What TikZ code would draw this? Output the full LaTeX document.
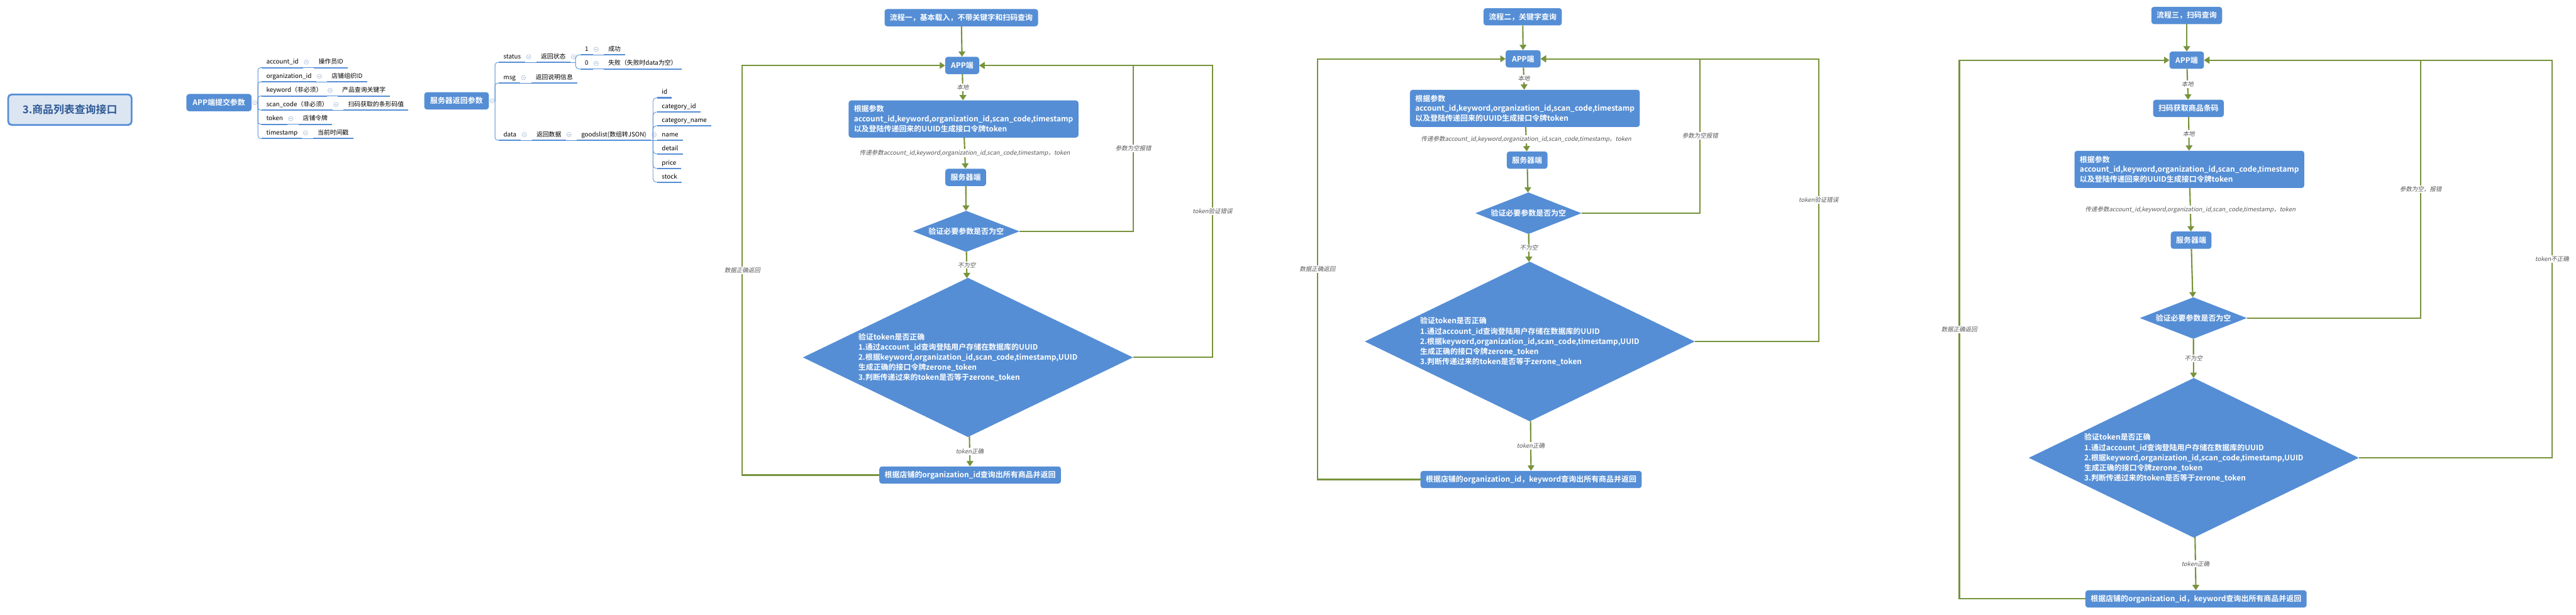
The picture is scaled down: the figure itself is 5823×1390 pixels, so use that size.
\documentclass[tikz,border=0pt]{standalone}
\usepackage{fontspec}
\setmainfont{Noto Sans CJK SC}[BoldFont={Noto Sans CJK SC Bold}]
\newfontfamily\slantfont{Noto Sans CJK SC}[FakeSlant=0.2]
\usepackage{xcolor}
\usepackage{tikz}
\usetikzlibrary{shapes.geometric,arrows.meta,positioning}

\definecolor{nodeblue}{HTML}{558ED5}
\definecolor{linegreen}{HTML}{77933C}
\definecolor{titlefill}{HTML}{DCE6F2}
\definecolor{titletext}{HTML}{2F5A96}
\definecolor{foldgray}{HTML}{A9BCDD}
\definecolor{labelgray}{HTML}{595959}

\tikzset{
  titlebox/.style={rectangle, rounded corners=8pt, draw=nodeblue, line width=4pt, fill=titlefill,
    text=titletext, font=\fontsize{24}{28}\selectfont\bfseries, minimum width=279pt, minimum height=69pt},
  rootbox/.style={rectangle, rounded corners=6pt, fill=nodeblue, text=white,
    font=\fontsize{17}{20}\selectfont\bfseries, minimum height=39pt, inner xsep=12pt},
  uline/.style={draw=nodeblue, line width=3pt},
  twig/.style={draw=nodeblue, line width=1.2pt},
  topic/.style={anchor=south west, font=\fontsize{14}{17}\selectfont, text height=12pt, text depth=3pt,
    inner xsep=10pt, inner ysep=5pt,
    append after command={\pgfextra{\draw[uline] (\tikzlastnode.south west) -- (\tikzlastnode.south east);}}},
  fold/.style={circle, draw=foldgray, line width=0.9pt, minimum size=10pt, inner sep=0pt, fill=white,
    path picture={\draw[foldgray, line width=0.9pt] ([xshift=2.5pt]path picture bounding box.west)
      -- ([xshift=-2.5pt]path picture bounding box.east);}},
  flowbox/.style={rectangle, rounded corners=6pt, fill=nodeblue, text=white,
    font=\fontsize{17}{22.5}\selectfont\bfseries, minimum height=39pt, inner xsep=12pt, inner ysep=6pt},
  check/.style={diamond, fill=nodeblue, text=white, font=\fontsize{17}{23}\selectfont\bfseries,
    inner sep=0pt, align=left},
  flow/.style={draw=linegreen, line width=3pt, -{Triangle[length=12pt,width=15pt]}},
  lbl/.style={fill=white, text=labelgray, font=\slantfont\fontsize{13.5}{16}\selectfont, inner sep=2pt}
}

\begin{document}
\begin{tikzpicture}[x=1pt,y=-1pt]
\useasboundingbox[fill=white] (0,0) rectangle (5823,1390);

\node[titlebox] (n0) at (158,248) {3.商品列表查询接口};

% APP side parameters
\node[rootbox, minimum width=147pt] (m1) at (495,232) {APP端提交参数};
\node[fold, right=2pt of m1] (c1) {};
\coordinate (j1) at (583,232);
\draw[twig] (c1.east) -- (j1);
\node[topic] (k1) at (592,153) {account\_id};
\node[fold, right=2pt of k1] (f1) {};
\node[topic, right=12pt of f1] (v1) {操作员ID};
\draw[twig] (k1.south east) -- (v1.south west);
\draw[twig, rounded corners=6pt] (j1) |- (k1.south west);
\node[topic] (k2) at (592,185) {organization\_id};
\node[fold, right=2pt of k2] (f2) {};
\node[topic, right=12pt of f2] (v2) {店铺组织ID};
\draw[twig] (k2.south east) -- (v2.south west);
\draw[twig, rounded corners=6pt] (j1) |- (k2.south west);
\node[topic] (k3) at (592,217) {keyword（非必须）};
\node[fold, right=2pt of k3] (f3) {};
\node[topic, right=12pt of f3] (v3) {产品查询关键字};
\draw[twig] (k3.south east) -- (v3.south west);
\draw[twig, rounded corners=6pt] (j1) |- (k3.south west);
\node[topic] (k4) at (592,249) {scan\_code（非必须）};
\node[fold, right=2pt of k4] (f4) {};
\node[topic, right=12pt of f4] (v4) {扫码获取的条形码值};
\draw[twig] (k4.south east) -- (v4.south west);
\draw[twig, rounded corners=6pt] (j1) |- (k4.south west);
\node[topic] (k5) at (592,281) {token};
\node[fold, right=2pt of k5] (f5) {};
\node[topic, right=12pt of f5] (v5) {店铺令牌};
\draw[twig] (k5.south east) -- (v5.south west);
\draw[twig, rounded corners=6pt] (j1) |- (k5.south west);
\node[topic] (k6) at (592,313) {timestamp};
\node[fold, right=2pt of k6] (f6) {};
\node[topic, right=12pt of f6] (v6) {当前时间戳};
\draw[twig] (k6.south east) -- (v6.south west);
\draw[twig, rounded corners=6pt] (j1) |- (k6.south west);

% server side return values
\node[rootbox, minimum width=146pt] (m2) at (1032,228) {服务器返回参数};
\node[fold, right=2pt of m2] (c2) {};
\coordinate (j2) at (1119,228);
\draw[twig] (c2.east) -- (j2);
\node[topic] (ks) at (1128,141) {status};
\node[fold, right=2pt of ks] (fs) {};
\node[topic, right=12pt of fs] (vs) {返回状态};
\draw[twig] (ks.south east) -- (vs.south west);
\draw[twig, rounded corners=6pt] (j2) |- (ks.south west);
\node[fold, right=2pt of vs] (gs) {};
\coordinate (j3) at (1301,141);
\draw[twig] (vs.south east) -- (j3);
\node[topic] (k11) at (1312,124) {1};
\node[fold, right=2pt of k11] (f11) {};
\node[topic, right=12pt of f11] (v11) {成功};
\draw[twig] (k11.south east) -- (v11.south west);
\draw[twig, rounded corners=8pt] (j3) |- (k11.south west);
\node[topic] (k10) at (1312,156) {0};
\node[fold, right=2pt of k10] (f10) {};
\node[topic, right=12pt of f10] (v10) {失败（失败时data为空）};
\draw[twig] (k10.south east) -- (v10.south west);
\draw[twig, rounded corners=8pt] (j3) |- (k10.south west);
\node[topic] (km) at (1128,188) {msg};
\node[fold, right=2pt of km] (fm) {};
\node[topic, right=12pt of fm] (vm) {返回说明信息};
\draw[twig] (km.south east) -- (vm.south west);
\draw[twig, rounded corners=6pt] (j2) |- (km.south west);
\node[topic] (kd) at (1128,317) {data};
\node[fold, right=2pt of kd] (fd) {};
\node[topic, right=12pt of fd] (vd) {返回数据};
\draw[twig] (kd.south east) -- (vd.south west);
\draw[twig, rounded corners=6pt] (j2) |- (kd.south west);
\node[fold, right=2pt of vd] (gd) {};
\node[topic, right=12pt of gd] (vg) {goodslist(数组转JSON)};
\draw[twig] (vd.south east) -- (vg.south west);
\node[fold, right=2pt of vg] (gg) {};
\coordinate (j4) at (1476,317);
\draw[twig] (vg.south east) -- (j4);
\node[topic] (g1) at (1486,221) {id};
\draw[twig, rounded corners=8pt] (j4) |- (g1.south west);
\node[topic] (g2) at (1486,253) {category\_id};
\draw[twig, rounded corners=8pt] (j4) |- (g2.south west);
\node[topic] (g3) at (1486,284) {category\_name};
\draw[twig, rounded corners=8pt] (j4) |- (g3.south west);
\node[topic] (g4) at (1486,317) {name};
\draw[twig] (j4) -- (g4.south west);
\node[topic] (g5) at (1486,348) {detail};
\draw[twig, rounded corners=8pt] (j4) |- (g5.south west);
\node[topic] (g6) at (1486,381) {price};
\draw[twig, rounded corners=8pt] (j4) |- (g6.south west);
\node[topic] (g7) at (1486,412) {stock};
\draw[twig, rounded corners=8pt] (j4) |- (g7.south west);

% flow 1
\node[flowbox] (t1) at (2173,40) {流程一，基本载入，不带关键字和扫码查询};
\node[flowbox, minimum width=77pt] (a1) at (2175,148) {APP端};
\node[flowbox, align=left, minimum height=84pt] (p1) at (2178,269) {根据参数\\account\_id,keyword,organization\_id,scan\_code,timestamp\\以及登陆传递回来的UUID生成接口令牌token};
\node[flowbox] (s1) at (2183,401) {服务器端};
\node[check, minimum width=241pt, minimum height=93pt, shape aspect=2.6] (d1) at (2184,523) {验证必要参数是否为空};
\node[check, minimum width=746pt, minimum height=360pt, shape aspect=2.07] (b1) at (2188,808) {验证token是否正确\\1.通过account\_id查询登陆用户存储在数据库的UUID\\2.根据keyword,organization\_id,scan\_code,timestamp,UUID\\生成正确的接口令牌zerone\_token\\3.判断传递过来的token是否等于zerone\_token};
\node[flowbox] (r1) at (2193,1074) {根据店铺的organization\_id查询出所有商品并返回};
\draw[flow] (t1) -- (a1);
\draw[flow] (a1) -- node[lbl]{本地} (p1);
\draw[flow] (p1) -- node[lbl]{传递参数account\_id,keyword,organization\_id,scan\_code,timestamp，token} (s1);
\draw[flow] (s1) -- (d1);
\draw[flow] (d1) -- node[lbl]{不为空} (b1);
\draw[flow] (b1) -- node[lbl]{token正确} (r1);
\coordinate (w1) at (1678,0);
\coordinate (e1) at (2562,0);
\coordinate (o1) at (2741,0);
\draw[flow] (r1.west) -- (w1 |- r1.west) -- node[lbl]{数据正确返回} (w1 |- a1.west) -- (a1.west);
\draw[flow] (d1.east) -- (e1 |- d1.east) -- node[lbl]{参数为空报错} (e1 |- a1.east) -- (a1.east);
\draw[flow] (b1.east) -- (o1 |- b1.east) -- node[lbl]{token验证错误} (o1 |- a1.east) -- (a1.east);

% flow 2
\node[flowbox] (t2) at (3442,38) {流程二，关键字查询};
\node[flowbox, minimum width=79pt] (a2) at (3443,133) {APP端};
\node[flowbox, align=left, minimum height=84pt] (p2) at (3447,245) {根据参数\\account\_id,keyword,organization\_id,scan\_code,timestamp\\以及登陆传递回来的UUID生成接口令牌token};
\node[flowbox] (s2) at (3452,362) {服务器端};
\node[check, minimum width=240pt, minimum height=94pt, shape aspect=2.6] (d2) at (3455,482) {验证必要参数是否为空};
\node[check, minimum width=746pt, minimum height=361pt, shape aspect=2.07] (b2) at (3458,772) {验证token是否正确\\1.通过account\_id查询登陆用户存储在数据库的UUID\\2.根据keyword,organization\_id,scan\_code,timestamp,UUID\\生成正确的接口令牌zerone\_token\\3.判断传递过来的token是否等于zerone\_token};
\node[flowbox] (r2) at (3461,1084) {根据店铺的organization\_id，keyword查询出所有商品并返回};
\draw[flow] (t2) -- (a2);
\draw[flow] (a2) -- node[lbl]{本地} (p2);
\draw[flow] (p2) -- node[lbl]{传递参数account\_id,keyword,organization\_id,scan\_code,timestamp，token} (s2);
\draw[flow] (s2) -- (d2);
\draw[flow] (d2) -- node[lbl]{不为空} (b2);
\draw[flow] (b2) -- node[lbl]{token正确} (r2);
\coordinate (w2) at (2978,0);
\coordinate (e2) at (3843,0);
\coordinate (o2) at (4111,0);
\draw[flow] (r2.west) -- (w2 |- r2.west) -- node[lbl]{数据正确返回} (w2 |- a2.west) -- (a2.west);
\draw[flow] (d2.east) -- (e2 |- d2.east) -- node[lbl]{参数为空报错} (e2 |- a2.east) -- (a2.east);
\draw[flow] (b2.east) -- (o2 |- b2.east) -- node[lbl]{token验证错误} (o2 |- a2.east) -- (a2.east);

% flow 3
\node[flowbox] (t3) at (4943,35) {流程三，扫码查询};
\node[flowbox, minimum width=78pt] (a3) at (4943,136) {APP端};
\node[flowbox] (q3) at (4947,245) {扫码获取商品条码};
\node[flowbox, align=left, minimum height=84pt] (p3) at (4949,383) {根据参数\\account\_id,keyword,organization\_id,scan\_code,timestamp\\以及登陆传递回来的UUID生成接口令牌token};
\node[flowbox] (s3) at (4953,543) {服务器端};
\node[check, minimum width=242pt, minimum height=94pt, shape aspect=2.6] (d3) at (4958,719) {验证必要参数是否为空};
\node[check, minimum width=746pt, minimum height=361pt, shape aspect=2.07] (b3) at (4959,1035) {验证token是否正确\\1.通过account\_id查询登陆用户存储在数据库的UUID\\2.根据keyword,organization\_id,scan\_code,timestamp,UUID\\生成正确的接口令牌zerone\_token\\3.判断传递过来的token是否等于zerone\_token};
\node[flowbox] (r3) at (4964,1354) {根据店铺的organization\_id，keyword查询出所有商品并返回};
\draw[flow] (t3) -- (a3);
\draw[flow] (a3) -- node[lbl]{本地} (q3);
\draw[flow] (q3) -- node[lbl]{本地} (p3);
\draw[flow] (p3) -- node[lbl]{传递参数account\_id,keyword,organization\_id,scan\_code,timestamp，token} (s3);
\draw[flow] (s3) -- (d3);
\draw[flow] (d3) -- node[lbl]{不为空} (b3);
\draw[flow] (b3) -- node[lbl]{token正确} (r3);
\coordinate (w3) at (4429,0);
\coordinate (e3) at (5472,0);
\coordinate (o3) at (5769,0);
\draw[flow] (r3.west) -- (w3 |- r3.west) -- node[lbl]{数据正确返回} (w3 |- a3.west) -- (a3.west);
\draw[flow] (d3.east) -- (e3 |- d3.east) -- node[lbl]{参数为空，报错} (e3 |- a3.east) -- (a3.east);
\draw[flow] (b3.east) -- (o3 |- b3.east) -- node[lbl]{token不正确} (o3 |- a3.east) -- (a3.east);
\end{tikzpicture}
\end{document}
